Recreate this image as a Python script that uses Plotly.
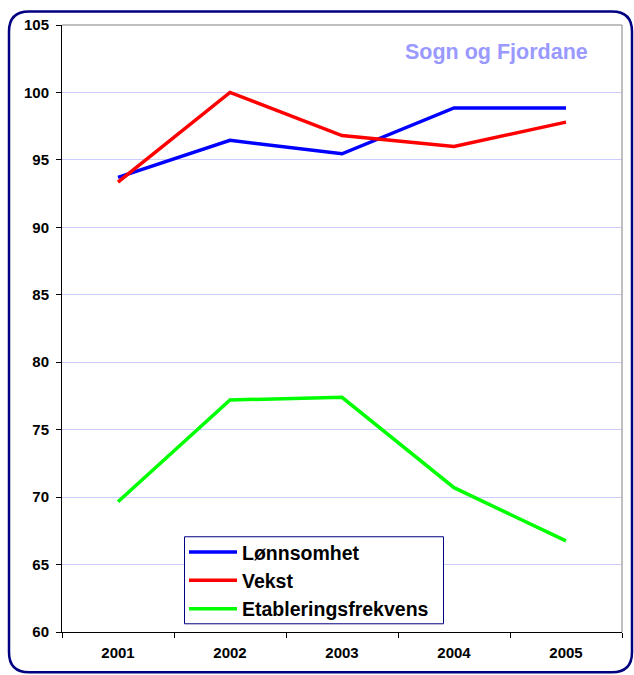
import plotly.graph_objects as go

years = ["2001", "2002", "2003", "2004", "2005"]
lonnsomhet = [93.7, 96.45, 95.45, 98.85, 98.85]
vekst = [93.35, 100.0, 96.8, 96.0, 97.8]
etablering = [69.65, 77.2, 77.4, 70.7, 66.75]

W, H = 634, 675
ml, mt = 62, 25
pw, ph = 560, 606.7
mr = W - ml - pw
mb = H - mt - ph

def px_x(x):
    # page pixel -> paper x
    return (x - ml) / pw

def px_y(y):
    # page pixel -> paper y
    return (mt + ph - y) / ph

font = "Arial, Liberation Sans, sans-serif"

fig = go.Figure()
fig.add_trace(go.Scatter(x=years, y=lonnsomhet, name="Lønnsomhet", mode="lines",
                         line=dict(color="#0000ff", width=3.5)))
fig.add_trace(go.Scatter(x=years, y=vekst, name="Vekst", mode="lines",
                         line=dict(color="#ff0000", width=3.5)))
fig.add_trace(go.Scatter(x=years, y=etablering, name="Etableringsfrekvens", mode="lines",
                         line=dict(color="#00ff00", width=3.5)))

# rounded outer frame
x0, x1 = px_x(9), px_x(632)
y0, y1 = px_y(11.5), px_y(672)
rx, ry = 20 / pw, 20 / ph
frame = (f"M{x0+rx},{y0} L{x1-rx},{y0} Q{x1},{y0} {x1},{y0-ry} "
         f"L{x1},{y1+ry} Q{x1},{y1} {x1-rx},{y1} L{x0+rx},{y1} "
         f"Q{x0},{y1} {x0},{y1+ry} L{x0},{y0-ry} Q{x0},{y0} {x0+rx},{y0} Z")

fig.update_layout(
    width=W, height=H,
    margin=dict(l=ml, r=mr, t=mt, b=mb),
    paper_bgcolor="white", plot_bgcolor="white",
    font=dict(family=font, color="black"),
    showlegend=True,
    legend=dict(x=px_x(184), y=px_y(532.5), xanchor="left", yanchor="top",
                bgcolor="rgba(0,0,0,0)", borderwidth=0,
                font=dict(size=19.5, weight="bold"), itemwidth=48,
                tracegroupgap=0),
    xaxis=dict(type="category", range=[-0.5, 4.5], showgrid=False,
               showline=True, linecolor="black", linewidth=1,
               ticks="outside", ticklen=5, tickcolor="black", tickson="boundaries",
               tickfont=dict(size=15, weight="bold"), ticklabelstandoff=7),
    yaxis=dict(range=[60, 105], dtick=5, showgrid=True, gridcolor="#ccccff",
               gridwidth=1, zeroline=False,
               showline=True, linecolor="black", linewidth=1,
               ticks="outside", ticklen=5, tickcolor="black",
               tickfont=dict(size=15, weight="bold"), ticklabelstandoff=4),
    shapes=[
        dict(type="line", xref="paper", yref="paper", x0=0, x1=1, y0=1, y1=1,
             line=dict(color="#808080", width=1)),
        dict(type="line", xref="paper", yref="paper", x0=1, x1=1, y0=0, y1=1,
             line=dict(color="#808080", width=1)),
        # legend box
        dict(type="rect", xref="paper", yref="paper",
             x0=px_x(184.5), x1=px_x(443.5), y0=px_y(623.5), y1=px_y(536.5),
             fillcolor="white", line=dict(color="#000080", width=1), layer="above"),
        dict(type="path", xref="paper", yref="paper", path=frame,
             line=dict(color="#000080", width=2.5)),
    ],
    annotations=[
        dict(text="Sogn og Fjordane", xref="paper", yref="paper",
             x=px_x(590), y=px_y(52), xanchor="right", yanchor="middle",
             showarrow=False, font=dict(size=21.5, color="#9999ff", weight="bold")),
    ],
)

# drop the default body margin so the figure fills the window exactly
fig.write_html("out.html", config={"displayModeBar": False},
               post_script="document.body.style.margin='0';")
